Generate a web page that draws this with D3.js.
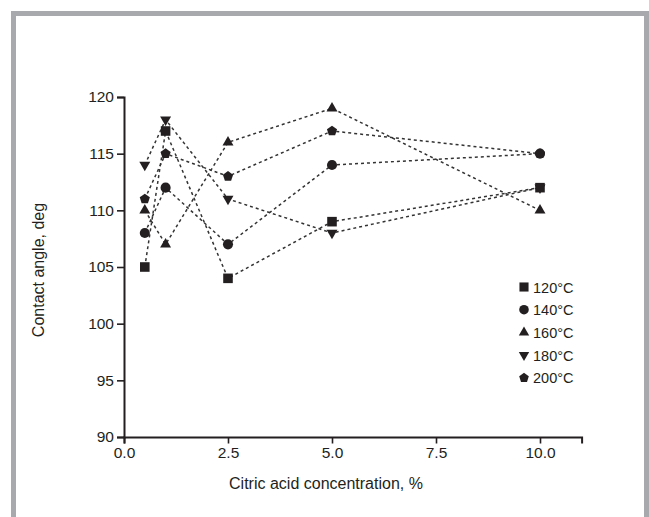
<!DOCTYPE html>
<html lang="en">
<head>
<meta charset="UTF-8">
<title>Contact angle vs citric acid concentration</title>
<script src="https://d3js.org/d3.v7.min.js"></script>
<style>
    body { margin: 0; background: #fff; }
    svg text { font-family: "Liberation Sans", Arial, sans-serif; fill: #231f20; }
</style>
</head>
<body>
<div id="chart"></div>
<script>
    // data
    var concentrations = [0.5, 1, 2.5, 5, 10];
    var series = ["120°C", "140°C", "160°C", "180°C", "200°C"];
    var angles120 = [105, 117, 104, 109, 112];
    var angles140 = [108, 112, 107, 114, 115];
    var angles160 = [110, 107, 116, 119, 110];
    var angles180 = [114, 118, 111, 108, 112];
    var angles200 = [111, 115, 113, 117, 115];
    var xTicks = [0, 2.5, 5, 7.5, 10];
    var yTicks = [90, 95, 100, 105, 110, 115, 120];

    var allValues = [angles120, angles140, angles160, angles180, angles200];
    var symbols = [d3.symbolSquare, d3.symbolCircle, d3.symbolTriangle, "down", "pentagon"];

    var w = 649, h = 517;
    var svg = d3.select("#chart").append("svg")
        .attr("width", w)
        .attr("height", h);

    // grey frame, open at the bottom
    svg.append("path")
        .attr("d", "M13.5," + h + " V13.5 H646.5 V" + h)
        .attr("fill", "none")
        .attr("stroke", "#a7a9ac")
        .attr("stroke-width", 5);

    var xScale = d3.scaleLinear().domain([0, 11]).range([124, 581.6]);
    var yScale = d3.scaleLinear().domain([90, 120]).range([437, 97]);

    // minor ticks
    var xMinor = d3.range(0, 11.01, 0.5);
    var yMinor = d3.range(90, 120.01, 2.5);

    var xAxisG = svg.append("g").attr("transform", "translate(0,437)");
    xAxisG.call(d3.axisBottom(xScale).tickValues(xMinor).tickSize(3.5).tickFormat(""));
    xAxisG.call(d3.axisBottom(xScale).tickValues(xTicks).tickSize(6.5).tickPadding(3)
        .tickFormat(d3.format(".1f")));

    var yAxisG = svg.append("g").attr("transform", "translate(124,0)");
    yAxisG.call(d3.axisLeft(yScale).tickValues(yMinor).tickSize(3.5).tickFormat(""));
    yAxisG.call(d3.axisLeft(yScale).tickValues(yTicks).tickSize(7).tickPadding(3));

    svg.selectAll(".domain").attr("stroke", "#231f20").attr("stroke-width", 2);
    svg.selectAll(".tick line").attr("stroke", "#231f20").attr("stroke-width", 1.6);
    svg.selectAll(".tick text").attr("font-size", "15.5px").style("fill", "#231f20");

    svg.append("text")
        .attr("x", 326).attr("y", 489)
        .attr("text-anchor", "middle")
        .attr("font-size", "16px")
        .text("Citric acid concentration, %");

    svg.append("text")
        .attr("transform", "translate(44,270) rotate(-90)")
        .attr("text-anchor", "middle")
        .attr("font-size", "16px")
        .text("Contact angle, deg");

    function symbolPath(kind, size) {
        if (kind === "down") {
            return d3.symbol().type(d3.symbolTriangle).size(size)();
        }
        if (kind === "pentagon") {
            var r = Math.sqrt(size) * 0.62, pts = [];
            for (var i = 0; i < 5; i++) {
                var a = -Math.PI / 2 + i * 2 * Math.PI / 5;
                pts.push([r * Math.cos(a), r * Math.sin(a)]);
            }
            return "M" + pts.join("L") + "Z";
        }
        return d3.symbol().type(kind).size(size)();
    }
    var sizes = [92, 80, 52, 52, 74];

    var line = d3.line()
        .x(function(d, i) { return xScale(concentrations[i]); })
        .y(function(d) { return yScale(d); });

    allValues.forEach(function(vals) {
        svg.append("path")
            .attr("d", line(vals))
            .attr("fill", "none")
            .attr("stroke", "#333")
            .attr("stroke-width", 1.5)
            .attr("stroke-dasharray", "3,3");
    });

    // last series first, so 120°C ends up on top
    d3.range(allValues.length - 1, -1, -1).forEach(function(s) {
        svg.selectAll(".pt" + s)
            .data(allValues[s])
            .enter()
            .append("path")
            .attr("transform", function(d, i) {
                var t = "translate(" + xScale(concentrations[i]) + "," + yScale(d) + ")";
                return symbols[s] === "down" ? t + " rotate(180)" : t;
            })
            .attr("d", symbolPath(symbols[s], sizes[s]))
            .attr("fill", "#231f20");
    });

    // legend
    var legend = svg.append("g");
    series.forEach(function(name, s) {
        var y = 287 + s * 22.7;
        legend.append("path")
            .attr("transform", "translate(524," + y + ")" + (symbols[s] === "down" ? " rotate(180)" : ""))
            .attr("d", symbolPath(symbols[s], sizes[s] * 0.9))
            .attr("fill", "#231f20");
        legend.append("text")
            .attr("x", 533).attr("y", y + 5.5)
            .attr("font-size", "14.5px")
            .text(name);
    });
</script>
</body>
</html>
